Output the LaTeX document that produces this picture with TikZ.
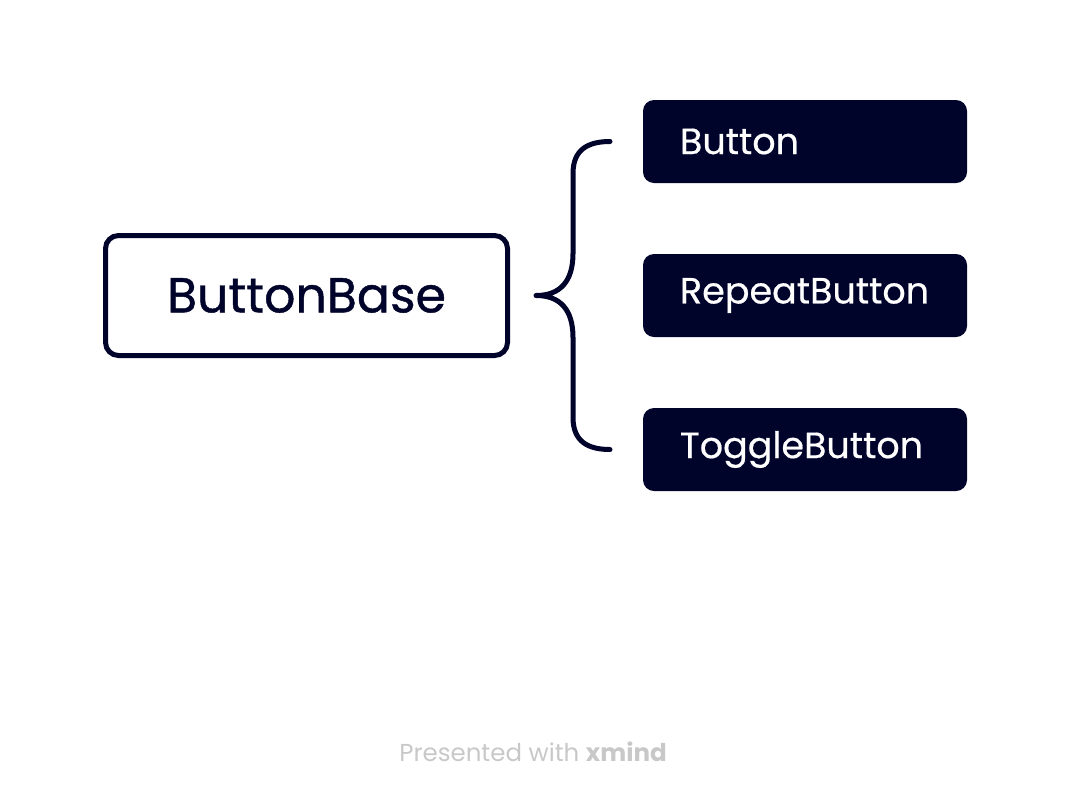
\documentclass[tikz,border=0pt]{standalone}
\usepackage{fontspec}
\setmainfont{Poppins}
\usetikzlibrary{calc}
\definecolor{navy}{HTML}{00032A}
\definecolor{foot}{HTML}{C8C8C8}
\tikzset{
  rootbox/.style={draw=navy, line width=5pt, rounded corners=13pt, fill=white,
    minimum width=402pt, minimum height=120pt, inner sep=0pt, text=navy,
    font=\fontsize{49}{56}\selectfont\addfontfeature{FakeBold=0.9}},
  childbox/.style={fill=navy, rounded corners=11pt, minimum height=83pt,
    text width=250pt, inner xsep=37pt, inner ysep=0pt, outer sep=0pt, align=left, text=white,
    font=\fontsize{36.5}{42}\selectfont\addfontfeature{FakeBold=0.5}},
  bracestyle/.style={draw=navy, line width=5pt, line cap=round, line join=round}
}
\begin{document}
\begin{tikzpicture}[x=1pt,y=-1pt]
\useasboundingbox (0,0) rectangle (1068,804);
\node[rootbox] (bb) at (306.5,295.5) {ButtonBase};
\node[childbox] (c1) at (805,141.5) {Button};
\node[childbox] (c2) at (805,295.5) {RepeatButton};
\node[childbox] (c3) at (805,449.5) {ToggleButton};
\coordinate (tip) at ($(bb.east)+(26,0)$);
\coordinate (e1) at ($(c1.west)+(-33,0)$);
\coordinate (e3) at ($(c3.west)+(-33,0)$);
\draw[bracestyle] (e1) .. controls ($(e1)+(-22,0)$) and ($(e1)+(-37,8)$) .. ($(e1)+(-37,32)$)
  -- ($(tip)+(37,-42)$) .. controls ($(tip)+(37,-14)$) and ($(tip)+(24,0)$) .. (tip)
  .. controls ($(tip)+(24,0)$) and ($(tip)+(37,14)$) .. ($(tip)+(37,42)$)
  -- ($(e3)+(-37,-32)$) .. controls ($(e3)+(-37,-8)$) and ($(e3)+(-22,0)$) .. (e3);
\node[text=foot, font=\fontsize{24.5}{30}\selectfont, anchor=center] (foot) at (533,752) {Presented with \textbf{xmind}};
\end{tikzpicture}
\end{document}
